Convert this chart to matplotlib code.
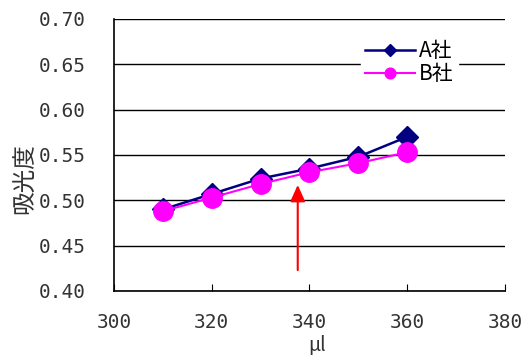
import matplotlib
matplotlib.use("Agg")
import matplotlib.pyplot as plt

plt.rcParams['font.family'] = ['Noto Sans CJK JP', 'DejaVu Sans']

# data
x = [310, 320, 330, 340, 350, 360]
a_vals = [0.490, 0.507, 0.524, 0.535, 0.548, 0.570]
b_vals = [0.488, 0.503, 0.518, 0.531, 0.541, 0.553]
series_names = ['A社', 'B社']
x_ticks = [300, 320, 340, 360, 380]
y_ticks = [0.40, 0.45, 0.50, 0.55, 0.60, 0.65, 0.70]
arrow_x = 337.6
arrow_from = 0.423
arrow_to = 0.517

tick_font = {'family': 'DejaVu Sans Mono', 'size': 14, 'color': '#333333'}

fig = plt.figure(figsize=(5.26, 3.6), dpi=100)
ax = fig.add_axes([0.2167, 0.1917, 0.7433, 0.7556])

ax.plot(x, a_vals, color='#000080', lw=1.8, marker='D', ms=11, label=series_names[0], zorder=3)
ax.plot(x, b_vals, color='#ff00ff', lw=1.5, marker='o', ms=14, label=series_names[1], zorder=4)

ax.annotate('', xy=(arrow_x, arrow_to), xytext=(arrow_x, arrow_from),
            arrowprops=dict(arrowstyle='-|>,head_width=0.45,head_length=1.0',
                            color='red', lw=1.5, shrinkA=0, shrinkB=0), zorder=5)

ax.set_xlim(300, 380)
ax.set_ylim(0.40, 0.70)
ax.set_xticks(x_ticks)
ax.set_xticklabels([str(v) for v in x_ticks], fontdict=tick_font)
ax.set_yticks(y_ticks)
ax.set_yticklabels([f'{v:.2f}' for v in y_ticks], fontdict=tick_font)
ax.yaxis.grid(True, color='black', lw=1)
ax.set_axisbelow(True)
for s in ['top', 'right']:
    ax.spines[s].set_visible(False)
ax.spines['left'].set_linewidth(1.2)
ax.spines['bottom'].set_linewidth(1.2)
ax.tick_params(axis='x', direction='in', length=5, pad=16)
ax.tick_params(axis='y', length=0, pad=20)

ax.set_ylabel('吸光度', fontsize=17, color='#333333')
ax.yaxis.set_label_coords(-0.20, 0.415)
ax.set_xlabel('μl', fontsize=14, color='#333333')
ax.xaxis.set_label_coords(0.52, -0.16)

leg = ax.legend(loc='upper left', bbox_to_anchor=(0.604, 0.975), frameon=True, fontsize=15,
                markerscale=0.55, handlelength=2.4, handletextpad=0.2, labelspacing=0.05,
                borderpad=0.2, fancybox=False)
leg.get_frame().set_edgecolor('white')
leg.get_frame().set_facecolor('white')
leg.get_frame().set_alpha(1)

fig.savefig('out.png', dpi=100)
